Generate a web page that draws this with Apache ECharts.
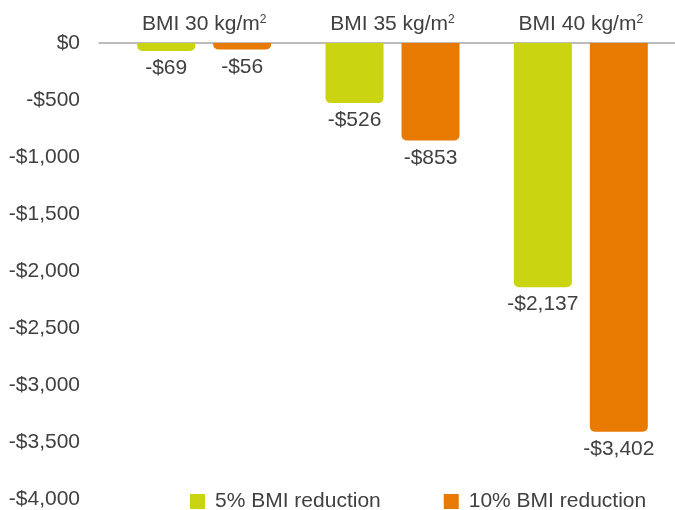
<!DOCTYPE html>
<html>
<head>
<meta charset="utf-8">
<script src="https://cdn.jsdelivr.net/npm/echarts@6/dist/echarts.min.js"></script>
<style>
  html, body { margin: 0; padding: 0; background: #ffffff; }
  #chart { width: 675px; height: 510px; }
</style>
</head>
<body>
<div id="chart"></div>
<script>
// Change in annual medical spending by starting BMI and size of BMI reduction
const categories = ['BMI 30', 'BMI 35', 'BMI 40'];
const seriesNames = ['5% BMI reduction', '10% BMI reduction'];
const reduction5 = [-69, -526, -2137];
const reduction10 = [-56, -853, -3402];
const yTicks = [0, -500, -1000, -1500, -2000, -2500, -3000, -3500, -4000];

const colors = ['#cad411', '#e87a02'];
const textColor = '#404040';
const font = 'Liberation Sans, Arial, sans-serif';
const fontSize = 21;

function money(v) {
  const s = '$' + Math.abs(v).toLocaleString('en-US');
  return v < 0 ? '-' + s : s;
}

const chart = echarts.init(document.getElementById('chart'));

const barLabel = {
  show: true,
  position: 'bottom',
  distance: 7,
  color: textColor,
  fontSize: fontSize,
  fontFamily: font,
  formatter: p => money(p.value)
};

const yMin = yTicks[yTicks.length - 1];
const yMax = yTicks[0];
const yStep = yTicks[0] - yTicks[1];

chart.setOption({
  animation: false,
  textStyle: { fontFamily: font },
  grid: [
    // bars and category labels
    { left: 110, right: 0, top: 43, bottom: 10, containLabel: false },
    // value labels and zero baseline across the full plot width
    { left: 99, right: 0, top: 43, bottom: 10, containLabel: false }
  ],
  legend: {
    top: 486,
    left: 185,
    itemWidth: 15,
    itemHeight: 15,
    itemGap: 63,
    icon: 'rect',
    textStyle: { color: textColor, fontSize: fontSize, fontFamily: font, padding: [0, 0, 0, 5] },
    data: seriesNames
  },
  xAxis: [
    {
      type: 'category',
      gridIndex: 0,
      position: 'top',
      data: categories,
      axisLine: { show: false },
      axisTick: { show: false },
      axisLabel: {
        interval: 0,
        margin: 8,
        color: textColor,
        fontSize: fontSize,
        fontFamily: font,
        formatter: v => v + ' kg/m{sup|2}',
        rich: {
          sup: { fontSize: 12, verticalAlign: 'top', padding: [0, 0, 7, 0], color: textColor, fontFamily: font }
        }
      }
    },
    {
      type: 'category',
      gridIndex: 1,
      position: 'top',
      data: [''],
      axisLine: { show: true, lineStyle: { color: '#a6a6a6', width: 1.5 } },
      axisTick: { show: false },
      axisLabel: { show: false }
    }
  ],
  yAxis: [
    {
      type: 'value',
      gridIndex: 0,
      min: yMin,
      max: yMax,
      show: false
    },
    {
      type: 'value',
      gridIndex: 1,
      min: yMin,
      max: yMax,
      interval: yStep,
      axisLine: { show: false },
      axisTick: { show: false },
      splitLine: { show: false },
      axisLabel: {
        margin: 19,
        color: textColor,
        fontSize: fontSize,
        fontFamily: font,
        formatter: v => money(v)
      }
    }
  ],
  series: [
    {
      name: seriesNames[0],
      type: 'bar',
      data: reduction5,
      barWidth: 58,
      barGap: '31%',
      itemStyle: { color: colors[0], borderRadius: [0, 0, 5, 5] },
      label: barLabel
    },
    {
      name: seriesNames[1],
      type: 'bar',
      data: reduction10,
      barWidth: 58,
      barGap: '31%',
      itemStyle: { color: colors[1], borderRadius: [0, 0, 5, 5] },
      label: barLabel
    }
  ]
});
</script>
</body>
</html>
